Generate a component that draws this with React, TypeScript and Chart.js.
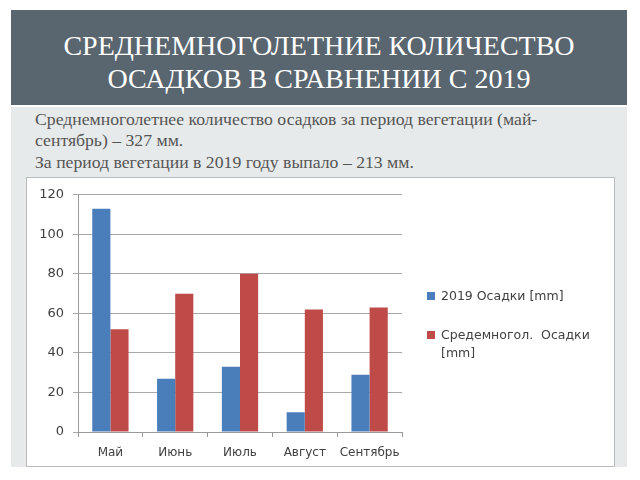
import React, { useEffect, useRef } from "react";
import { Chart, registerables } from "chart.js";

Chart.register(...registerables);

const months = ["Май", "Июнь", "Июль", "Август", "Сентябрь"];
const rain2019 = [113, 27, 33, 10, 29];
const rainMean = [52, 70, 80, 62, 63];
const seriesNames = ["2019 Осадки [mm]", "Средемногол.  Осадки [mm]"];
const seriesColors = ["#4a7ebb", "#be4b48"];
const yTicks = [0, 20, 40, 60, 80, 100, 120];

const titleLines = ["СРЕДНЕМНОГОЛЕТНИЕ КОЛИЧЕСТВО", "ОСАДКОВ В СРАВНЕНИИ С 2019"];
const bodyLines = [
  "Среднемноголетнее количество осадков за период вегетации (май-",
  "сентябрь) – 327 мм.",
  "За период вегетации в 2019 году выпало – 213 мм.",
];

const serif = "'Liberation Serif', 'Times New Roman', serif";

export default function App() {
  const ref = useRef<HTMLCanvasElement | null>(null);

  useEffect(() => {
    if (!ref.current) return;
    const font = { family: "'DejaVu Sans', sans-serif", size: 12 };
    const chart = new Chart(ref.current, {
      type: "bar",
      data: {
        labels: months,
        datasets: [
          { label: seriesNames[0], data: rain2019, backgroundColor: seriesColors[0] },
          { label: seriesNames[1], data: rainMean, backgroundColor: seriesColors[1] },
        ],
      },
      options: {
        animation: false,
        responsive: false,
        maintainAspectRatio: false,
        layout: { padding: { top: 16, right: 212, left: 0, bottom: 0 } },
        datasets: { bar: { categoryPercentage: 0.56, barPercentage: 1 } },
        plugins: { legend: { display: false }, tooltip: { enabled: false } },
        scales: {
          x: {
            grid: { display: true, drawOnChartArea: false, color: "#9a9a9a", tickLength: 5, offset: true },
            border: { color: "#9a9a9a" },
            ticks: { color: "#404040", font, padding: 9, maxRotation: 0, minRotation: 0, autoSkip: false },
            afterFit: (s: any) => { s.height = 34; },
          },
          y: {
            min: 0,
            max: 120,
            afterBuildTicks: (s: any) => { s.ticks = yTicks.map((v) => ({ value: v })); },
            grid: { color: "#a8a8a8", tickLength: 5 },
            border: { color: "#9a9a9a" },
            ticks: { color: "#404040", font: { ...font, size: 13 }, padding: 9 },
            afterFit: (s: any) => { s.width = 51; },
          },
        },
      },
    });
    return () => chart.destroy();
  }, []);

  return (
    <div style={{ position: "absolute", left: 0, top: 0, width: 640, height: 480, background: "#ffffff", overflow: "hidden" }}>
      <div style={{ position: "absolute", left: 11, top: 10, width: 616, height: 95, background: "#59656f" }} />
      {titleLines.map((t, i) => (
        <div key={i} style={{ position: "absolute", left: 11, width: 616, top: 29 + i * 33, textAlign: "center", color: "#ffffff", fontFamily: serif, fontSize: 28, lineHeight: "34px", whiteSpace: "nowrap" }}>{t}</div>
      ))}
      <div style={{ position: "absolute", left: 11, top: 107, width: 616, height: 360, background: "#e7eaea" }} />
      {bodyLines.map((t, i) => (
        <div key={i} style={{ position: "absolute", left: 35, top: [109, 130, 152][i], color: "#555555", fontFamily: serif, fontSize: 17.7, lineHeight: "20px", whiteSpace: "nowrap" }}>{t}</div>
      ))}
      <div style={{ position: "absolute", left: 26, top: 177, width: 587, height: 288, background: "#ffffff", border: "1px solid #b9bcbc" }}>
        <canvas ref={ref} width={587} height={288} style={{ display: "block", width: 587, height: 288 }} />
        <div style={{ position: "absolute", left: 400, top: 109, width: 175, fontFamily: "'DejaVu Sans', sans-serif", fontSize: 12.5, color: "#404040", lineHeight: "18px" }}>
          {seriesNames.map((n, i) => (
            <div key={i} style={{ position: "relative", paddingLeft: 14, marginBottom: i === 0 ? 21 : 0, whiteSpace: "pre-wrap" }}>
              <span style={{ position: "absolute", left: 0, top: 5, width: 8, height: 8, background: seriesColors[i] }} />
              {n}
            </div>
          ))}
        </div>
      </div>
    </div>
  );
}
